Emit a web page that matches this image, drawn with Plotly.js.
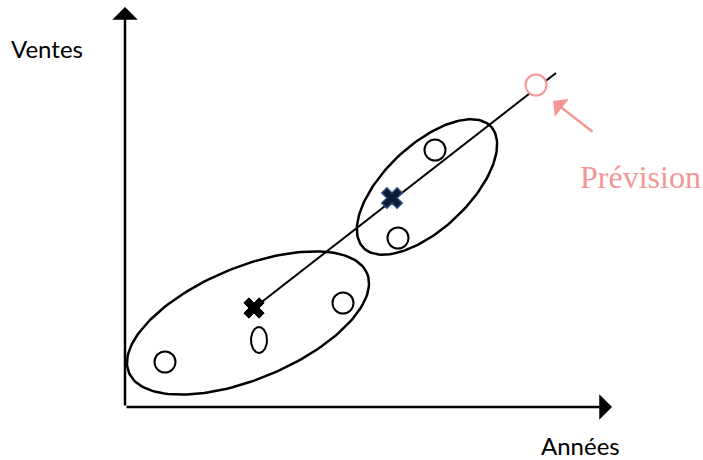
<!DOCTYPE html>
<html>
<head>
<meta charset="utf-8">
<script src="https://cdn.plot.ly/plotly-3.0.1.min.js"></script>
<style>html,body{margin:0;padding:0;background:#fff;}#chart{width:703px;height:460px;}</style>
</head>
<body>
<div id="chart"></div>
<script>
// Observations (années, ventes)
const obsX = [4.0, 21.8, 27.3, 31.0];
const obsY = [4.5, 10.4, 16.9, 25.7];
// Oval-shaped observation
const ovalX = [13.4];
const ovalY = [6.7];
const ovalRx = [0.8];
const ovalRy = [1.3];
// Group centroids (crosses)
const centroidX = [12.9, 26.7];
const centroidY = [9.9, 20.9];
// Trend line
const trendX = [12.9, 43.1];
const trendY = [9.9, 33.4];
// Forecast point
const forecastX = [41.1];
const forecastY = [32.2];
// Group ellipses
const ellCx = [12.3, 30.2];
const ellCy = [8.4, 22.0];
const ellA = [12.9, 8.8];
const ellB = [5.6, 4.2];
const ellAngle = [22.6, 43.4];
// Axes
const axisOrigin = [0, 0];
const axisXEnd = 48.7;
const axisYEnd = 40.0;

const pink = '#f59595';

function ellipsePts(cx, cy, a, b, angDeg) {
  const th = angDeg * Math.PI / 180, xs = [], ys = [];
  for (let i = 0; i <= 160; i++) {
    const t = 2 * Math.PI * i / 160;
    const u = a * Math.cos(t), v = b * Math.sin(t);
    xs.push(cx + u * Math.cos(th) - v * Math.sin(th));
    ys.push(cy + u * Math.sin(th) + v * Math.cos(th));
  }
  return {xs, ys};
}

const traces = [];
for (let i = 0; i < ellCx.length; i++) {
  const p = ellipsePts(ellCx[i], ellCy[i], ellA[i], ellB[i], ellAngle[i]);
  traces.push({x: p.xs, y: p.ys, mode: 'lines', line: {color: '#000', width: 2.5}, hoverinfo: 'skip'});
}
traces.push({x: trendX, y: trendY, mode: 'lines', line: {color: '#000', width: 2}, hoverinfo: 'skip'});
for (let i = 0; i < ovalX.length; i++) {
  const p = ellipsePts(ovalX[i], ovalY[i], ovalRx[i], ovalRy[i], 0);
  traces.push({x: p.xs, y: p.ys, mode: 'lines', fill: 'toself', fillcolor: '#fff', line: {color: '#000', width: 2}, hoverinfo: 'skip'});
}
traces.push({x: obsX, y: obsY, mode: 'markers', marker: {symbol: 'circle', size: 21, color: '#fff', line: {color: '#000', width: 2}}});
traces.push({x: forecastX, y: forecastY, mode: 'markers', marker: {symbol: 'circle', size: 21, color: '#fff', line: {color: pink, width: 2}}});
traces.push({x: [centroidX[0]], y: [centroidY[0]], mode: 'markers', marker: {symbol: 'x', size: 18, color: '#000', line: {color: '#000', width: 1}}});
traces.push({x: [centroidX[1]], y: [centroidY[1]], mode: 'markers', marker: {symbol: 'x', size: 18, color: '#0d1a33', line: {color: '#2c4a7c', width: 1.5}}});

const annotations = [
  {x: axisXEnd, y: axisOrigin[1], ax: axisOrigin[0], ay: axisOrigin[1], xref: 'x', yref: 'y', axref: 'x', ayref: 'y', text: '', showarrow: true, arrowhead: 1, arrowsize: 1.7, arrowwidth: 2.5, arrowcolor: '#000', standoff: 0},
  {x: axisOrigin[0], y: axisYEnd, ax: axisOrigin[0], ay: axisOrigin[1], xref: 'x', yref: 'y', axref: 'x', ayref: 'y', text: '', showarrow: true, arrowhead: 1, arrowsize: 1.7, arrowwidth: 2.5, arrowcolor: '#000', standoff: 0},
  {x: 42.8, y: 30.6, ax: 46.9, ay: 27.4, xref: 'x', yref: 'y', axref: 'x', ayref: 'y', text: '', showarrow: true, arrowhead: 1, arrowsize: 1.5, arrowwidth: 2.5, arrowcolor: pink, standoff: 0},
  {x: -7.8, y: 35.9, xref: 'x', yref: 'y', text: 'Ventes', showarrow: false, xanchor: 'center', yanchor: 'middle', font: {family: 'Lato, "Open Sans", sans-serif', size: 24, color: '#000'}},
  {x: 45.5, y: -3.8, xref: 'x', yref: 'y', text: 'Années', showarrow: false, xanchor: 'center', yanchor: 'middle', font: {family: 'Lato, "Open Sans", sans-serif', size: 24, color: '#000'}},
  {x: 51.5, y: 23.0, xref: 'x', yref: 'y', text: 'Prévision', showarrow: false, xanchor: 'center', yanchor: 'middle', font: {family: '"Liberation Serif", "Times New Roman", serif', size: 32, color: pink}}
];

const layout = {
  width: 703, height: 460,
  margin: {l: 0, r: 0, t: 0, b: 0},
  paper_bgcolor: '#fff', plot_bgcolor: '#fff',
  showlegend: false,
  xaxis: {range: [-12.5, 57.8], visible: false, fixedrange: true},
  yaxis: {range: [-5.3, 40.7], visible: false, fixedrange: true},
  annotations: annotations
};
Plotly.newPlot('chart', traces, layout, {displayModeBar: false, staticPlot: true});
</script>
</body>
</html>
